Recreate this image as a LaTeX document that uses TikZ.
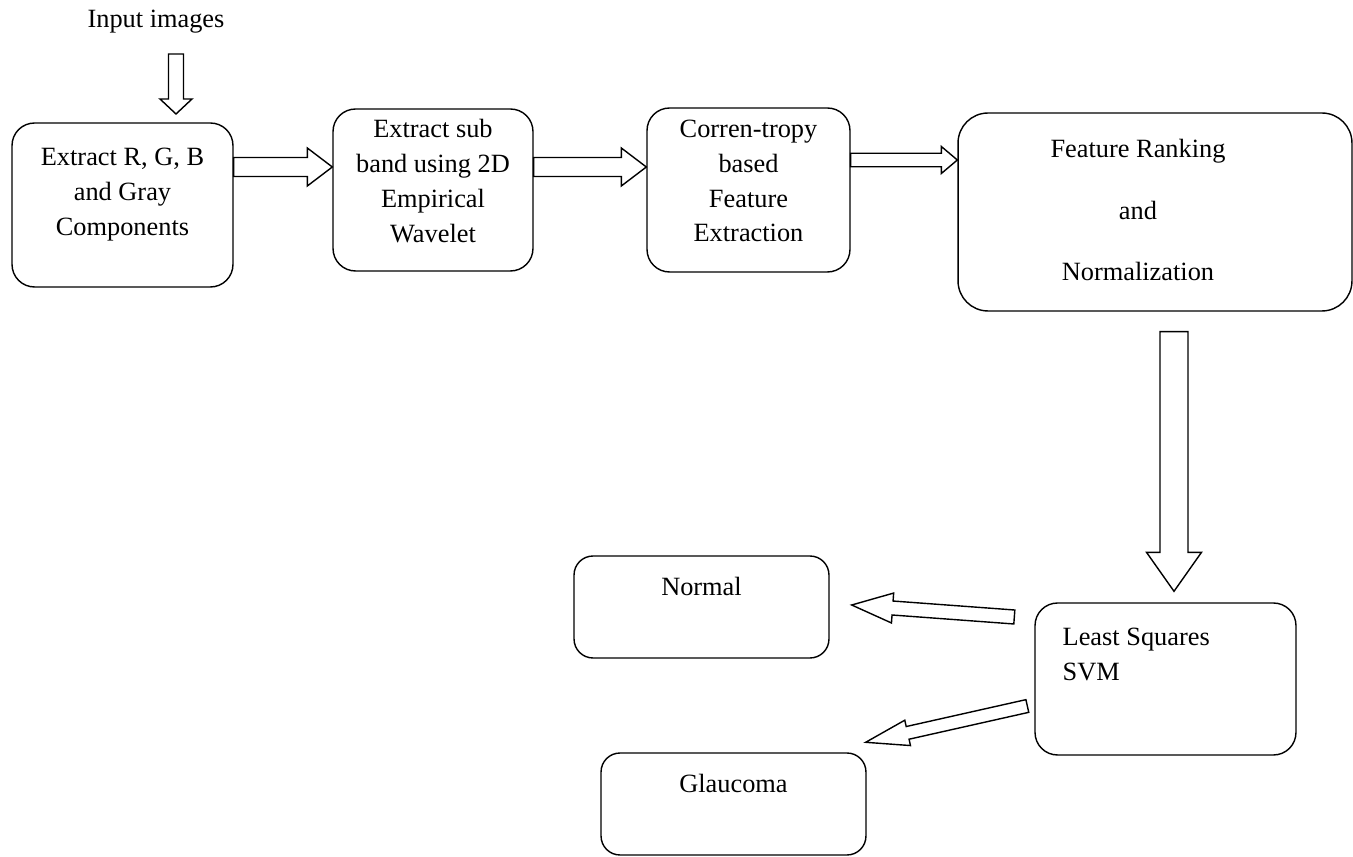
\documentclass[tikz,border=0pt]{standalone}
\usepackage{fontspec}
\setmainfont{Liberation Serif}
\usetikzlibrary{positioning, calc}

\newcommand{\hollowarrow}[5]{%
  \coordinate (hb) at ($(#2)!#5!(#1)$);
  \draw[harrow] ($(#1)!#3!90:(#2)$) -- ($(hb)!#3!90:(#2)$) -- ($(hb)!#4!90:(#2)$) -- (#2)
    -- ($(hb)!#4!-90:(#2)$) -- ($(hb)!#3!-90:(#2)$) -- ($(#1)!#3!-90:(#2)$) -- cycle;}

\begin{document}
\begin{tikzpicture}[
            x=0.02cm, y=-0.02cm,
            box/.style={rectangle, draw, line width=0.8pt, rounded corners=0.45cm},
            lbl/.style={inner sep=0pt, align=center, font=\fontsize{15}{19.9}\selectfont},
            harrow/.style={draw, fill=white, line width=0.8pt, line join=miter},
            ]
            \useasboundingbox (0,0) rectangle (1353,857);

            \node[lbl, anchor=north] (inp) at (156,10) {Input images};

            \node[box, minimum width=4.42cm, minimum height=3.28cm] (b1) at (122.5,205) {};
            \node[box, minimum width=4.0cm, minimum height=3.24cm] (b2) at (433,190) {};
            \node[box, minimum width=4.06cm, minimum height=3.28cm] (b3) at (748.5,190) {};
            \node[box, rounded corners=0.6cm, minimum width=7.88cm, minimum height=3.96cm] (b4) at (1155,212) {};
            \node[box, minimum width=5.22cm, minimum height=3.04cm] (svm) at (1165.5,679) {};
            \node[box, rounded corners=0.38cm, minimum width=5.1cm, minimum height=2.04cm] (norm) at (701.5,607) {};
            \node[box, rounded corners=0.38cm, minimum width=5.3cm, minimum height=2.04cm] (glau) at (733.5,804) {};

            \node[lbl, below=0.5cm of b1.north] (t1) {Extract R, G, B\\and Gray\\Components};
            \node[lbl, below=0.22cm of b2.north] (t2) {Extract sub\\band using 2D\\Empirical\\Wavelet};
            \node[lbl, below=0.24cm of b3.north] (t3) {Corren-tropy\\based\\Feature\\Extraction};
            \node[lbl, font=\fontsize{15}{35}\selectfont, below=0.54cm of b4.north, xshift=-0.34cm] (t4) {Feature Ranking\\and\\Normalization};
            \node[lbl, align=left, anchor=north west] (t5) at ($(svm.north west)+(28,25)$) {Least Squares\\SVM};
            \node[lbl, below=0.44cm of norm.north] (t6) {Normal};
            \node[lbl, below=0.44cm of glau.north] (t7) {Glaucoma};

            \coordinate (in0) at (176,54);
            \coordinate (in1) at (176,114);
            \hollowarrow{in0}{in1}{0.15cm}{0.32cm}{0.3cm}

            \coordinate (a12) at ($(b1.east)+(0,-38)$);
            \coordinate (b12) at ($(b2.west)+(0,-23)$);
            \hollowarrow{a12}{b12}{0.19cm}{0.38cm}{0.5cm}

            \coordinate (a23) at ($(b2.east)+(0,-23)$);
            \coordinate (b23) at ($(b3.west)+(0,-23)$);
            \hollowarrow{a23}{b23}{0.19cm}{0.38cm}{0.5cm}

            \coordinate (a34) at ($(b3.east)+(0,-30)$);
            \coordinate (b34) at ($(b4.west)+(0,-52)$);
            \hollowarrow{a34}{b34}{0.135cm}{0.27cm}{0.32cm}

            \coordinate (a45) at ($(b4.south)+(19,20)$);
            \coordinate (b45) at ($(svm.north)+(8.5,-11)$);
            \hollowarrow{a45}{b45}{0.28cm}{0.55cm}{0.78cm}

            \coordinate (an) at ($(svm.west)+(-20,-62)$);
            \coordinate (bn) at ($(norm.east)+(22,-2)$);
            \hollowarrow{an}{bn}{0.14cm}{0.3cm}{0.82cm}

            \coordinate (ag) at ($(svm.west)+(-7,27)$);
            \coordinate (bg) at ($(glau.north east)+(-1,-10)$);
            \hollowarrow{ag}{bg}{0.13cm}{0.26cm}{0.86cm}

        \end{tikzpicture}
\end{document}
